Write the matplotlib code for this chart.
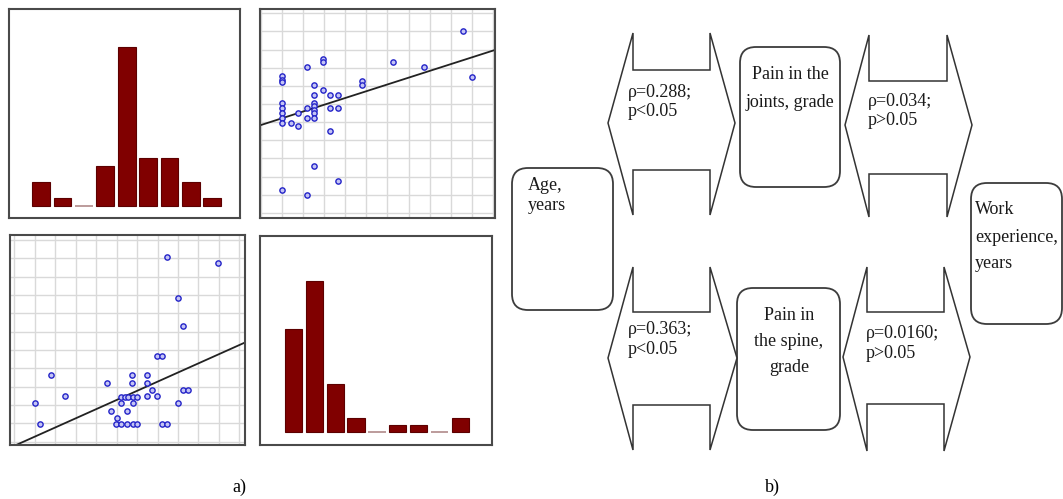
import numpy as np
import matplotlib
matplotlib.use("Agg")
import matplotlib.pyplot as plt
from matplotlib.patches import FancyBboxPatch, Polygon

# histogram counts (a, top left and bottom right)
hist_top = [3, 1, 0, 5, 20, 6, 6, 3, 1]
hist_bottom = [15, 22, 7, 2, 0, 1, 1, 0, 2]

# scatter a), top right (grid units)
sc1_x = [9.57, 10.0, 7.75, 6.28, 4.77, 4.77, 2.92, 2.92, 2.19, 1.0, 1.0, 1.0, 2.52,
         2.92, 3.27, 3.66, 2.52, 1.0, 1.0, 1.0, 1.0, 1.0, 1.41, 1.76, 1.76, 2.19,
         2.19, 2.52, 2.52, 2.52, 2.52, 2.52, 3.27, 3.66, 3.27, 2.52, 3.66, 1.0, 2.19]
sc1_y = [10.0, 7.49, 8.04, 8.31, 7.25, 7.06, 8.50, 8.31, 8.04, 7.52, 7.34, 7.21, 7.03,
         6.79, 6.51, 6.51, 6.51, 6.06, 5.78, 5.50, 5.23, 4.95, 4.95, 4.81, 5.50, 5.78,
         5.23, 6.06, 5.87, 5.69, 5.50, 5.23, 5.78, 5.78, 4.53, 2.57, 1.74, 1.28, 1.01]
fit1 = (0.372, 4.85)

# scatter a), bottom left (grid units)
sc2_x = [7.44, 9.97, 8.01, 8.23, 6.95, 7.23, 1.78, 4.51, 5.76, 6.46, 5.76, 6.46, 6.74,
         8.23, 8.50, 2.47, 5.21, 5.40, 5.57, 5.78, 5.98, 6.46, 6.95, 1.0, 5.21, 5.78,
         8.01, 4.72, 5.49, 5.00, 1.24, 4.96, 5.21, 5.49, 5.78, 5.98, 7.23, 7.44]
sc2_y = [10.05, 9.73, 7.82, 6.31, 4.69, 4.69, 3.64, 3.18, 3.64, 3.64, 3.18, 3.18, 2.82,
         2.82, 2.82, 2.49, 2.45, 2.45, 2.45, 2.45, 2.45, 2.49, 2.49, 2.13, 2.09, 2.13,
         2.13, 1.67, 1.67, 1.31, 0.96, 0.96, 0.96, 0.96, 0.96, 0.96, 0.96, 0.96]
fit2 = (0.499, -0.22)

# diagram b)
box_labels = ["Age,\nyears", "Pain in the\njoints, grade", "Pain in\nthe spine,\ngrade",
              "Work\nexperience,\nyears"]
rho_vals = ["0.288", "0.034", "0.363", "0.0160"]
p_vals = ["p<0.05", "p>0.05", "p<0.05", "p>0.05"]
panel_labels = ["a)", "b)"]

W, H = 1063, 499
fig = plt.figure(figsize=(W / 100, H / 100), dpi=100)
serif = ["Liberation Serif", "DejaVu Serif"]


def px_axes(x0, y0, x1, y1):
    return fig.add_axes([x0 / W, 1 - y1 / H, (x1 - x0) / W, (y1 - y0) / H])


def frame(ax):
    for s in ax.spines.values():
        s.set_color("#4a4a4a")
        s.set_linewidth(1.5)


def draw_hist(ax, counts, xlim, ylim):
    bars = ax.bar(np.arange(len(counts)), counts, width=0.83,
                  color="#800000", edgecolor="#5c0000", linewidth=0.8)
    for b, c in zip(bars, counts):
        if c == 0:
            b.set_edgecolor("#b08a8a")
            b.set_linewidth(1.2)
    ax.set_xlim(*xlim)
    ax.set_ylim(*ylim)
    ax.set_xticks([])
    ax.set_yticks([])
    frame(ax)


def draw_scatter(ax, xs, ys, fit, xlim, ylim):
    ax.set_xticks(np.arange(0, 12))
    ax.set_yticks(np.arange(0, 12))
    ax.grid(color="#d9d9d9", linewidth=1)
    ax.set_axisbelow(True)
    ax.tick_params(length=0, labelbottom=False, labelleft=False)
    xx = np.array(xlim)
    ax.plot(xx, fit[0] * xx + fit[1], color="#222222", linewidth=1.3, zorder=2)
    ax.plot(xs, ys, "o", ms=3.8, mfc="#c4c4f5", mec="#2424c8", mew=1.0, zorder=3)
    ax.set_xlim(*xlim)
    ax.set_ylim(*ylim)
    frame(ax)


# overlay for the diagram and labels, in pixel units
ov = fig.add_axes([0, 0, 1, 1])
ov.set_xlim(0, W)
ov.set_ylim(H, 0)
ov.axis("off")

draw_hist(px_axes(9, 9, 240, 218), hist_top, (-1.5, 9.3), (-1.51, 24.8))
draw_scatter(px_axes(260, 9, 495, 218), sc1_x, sc1_y, fit1, (-0.06, 11.11), (-0.28, 11.24))
draw_scatter(px_axes(10, 235, 245, 445), sc2_x, sc2_y, fit2, (-0.22, 11.28), (-0.18, 11.27))
draw_hist(px_axes(260, 236, 492, 445), hist_bottom, (-1.61, 9.52), (-1.9, 28.6))

# rounded boxes: x0, y0, x1, y1, text x, first line y, line step, align
boxes = [
    (512, 168, 613, 310, 528, 185, 21, "left"),
    (740, 47, 840, 187, 790, 74, 28, "center"),
    (737, 288, 840, 430, 789, 315, 26, "center"),
    (971, 183, 1062, 324, 975, 210, 27, "left"),
]
for (x0, y0, x1, y1, tx, ty, step, ha), lab in zip(boxes, box_labels):
    ov.add_patch(FancyBboxPatch((x0, y0), x1 - x0, y1 - y0,
                                boxstyle="round,pad=0,rounding_size=16",
                                fc="white", ec="#3c3c3c", lw=1.3))
    for k, line in enumerate(lab.split("\n")):
        ov.text(tx, ty + k * step, line, ha=ha, va="center", fontsize=13,
                family=serif, color="#1a1a1a")

# double arrows: left tip, right tip, left notch, right notch, tip y,
# head top, head bottom, shaft top, shaft bottom, text x, text y
arrows = [
    (608, 735, 633, 710, 123, 33, 215, 70, 170, 628, 92),
    (845, 972, 869, 947, 125, 35, 217, 81, 174, 868, 101),
    (608, 737, 633, 710, 358, 267, 450, 312, 405, 628, 330),
    (843, 970, 867, 944, 357, 267, 451, 312, 404, 866, 334),
]
for (xl, xr, nl, nr, yc, ht, hb, st, sb, tx, ty), r, p in zip(arrows, rho_vals, p_vals):
    pts = [(xl, yc), (nl, ht), (nl, st), (nr, st), (nr, ht), (xr, yc),
           (nr, hb), (nr, sb), (nl, sb), (nl, hb)]
    ov.add_patch(Polygon(pts, closed=True, fc="white", ec="#333333", lw=1.1))
    ov.text(tx, ty, "\u03c1=" + r + ";", ha="left", va="center", fontsize=13,
            family=serif, color="#1a1a1a")
    ov.text(tx, ty + 19, p, ha="left", va="center", fontsize=13,
            family=serif, color="#1a1a1a")

ov.text(239, 487, panel_labels[0], ha="center", va="center", fontsize=13, family=serif)
ov.text(772, 487, panel_labels[1], ha="center", va="center", fontsize=13, family=serif)

fig.savefig("out.png", dpi=100)
